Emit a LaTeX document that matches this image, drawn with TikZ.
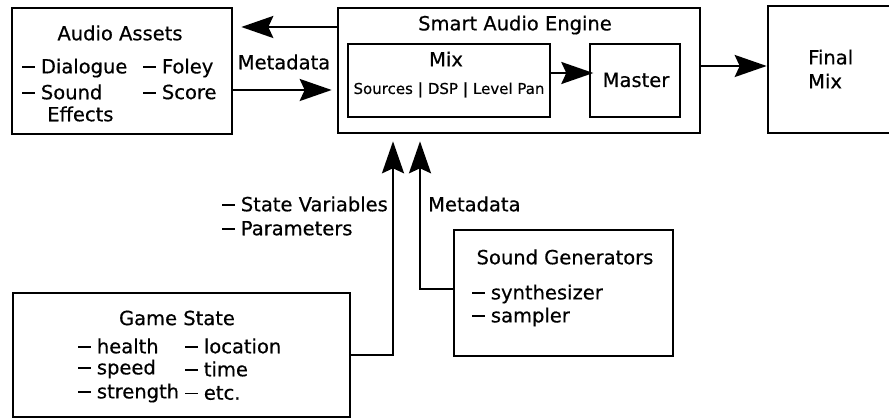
\documentclass[tikz,border=0pt]{standalone}
\usepackage{fontspec}
\setmainfont{DejaVu Sans}[FakeBold=0.5]
\usetikzlibrary{arrows.meta}
\newcommand{\dsh}{\rule[0.27em]{0.66em}{1.8pt}\hspace{0.3em}}
\tikzset{
  box/.style={draw, line width=2.6pt, inner sep=0pt},
  inbox/.style={draw, line width=1.4pt, inner sep=0pt},
  txt/.style={inner sep=0pt, font=\fontsize{19.5}{24}\selectfont},
  smalltxt/.style={inner sep=0pt, font=\fontsize{15}{18}\selectfont},
  arr/.style={line width=2.4pt, -{Stealth[length=32pt, width=22pt, inset=5pt]}},
}

\begin{document}
\begin{tikzpicture}[x=1pt, y=-1pt]
    \clip (0,0) rectangle (889,419);
    % Boxes
    \node[box, minimum width=220pt, minimum height=126pt] (assets) at (122,71) {};
    \node[box, minimum width=362pt, minimum height=125pt] (engine) at (519,70.5) {};
    \node[inbox, minimum width=202pt, minimum height=73pt] (mix) at (449,80.5) {};
    \node[inbox, minimum width=90pt, minimum height=73pt] (master) at (635,80.5) {};
    \node[box, minimum width=140pt, minimum height=127pt] (final) at (838,69.5) {};
    \node[box, minimum width=219pt, minimum height=126pt] (gen) at (563.5,293) {};
    \node[box, minimum width=337pt, minimum height=124pt] (game) at (181.5,355) {};

    % Audio Assets
    \node[txt] (assetsT) at (120,33) {Audio Assets};
    \node[txt, anchor=west] (dialogue) at (22,68) {\dsh Dialogue};
    \node[txt, anchor=west] (sound) at (22,92) {\dsh Sound};
    \node[txt, anchor=west] (effects) at (47,114) {Effects};
    \node[txt, anchor=west] (foley) at (143,68) {\dsh Foley};
    \node[txt, anchor=west] (score) at (143,92) {\dsh Score};

    % Smart Audio Engine
    \node[txt] (engineT) at (515,25) {Smart Audio Engine};
    \node[txt] (mixT) at (446,59) {Mix};
    \node[smalltxt] (chain) at (449,90) {Sources \textbf{|} DSP \textbf{|} Level Pan};
    \node[txt] (masterT) at (636,80) {Master};
    \node[txt, align=left, anchor=west] (finalT) at (808,69) {Final\\Mix};

    % Sound Generators
    \node[txt] (genT) at (565,257) {Sound Generators};
    \node[txt, anchor=west] (synth) at (472,294) {\dsh synthesizer};
    \node[txt, anchor=west] (sampler) at (472,317) {\dsh sampler};

    % Game State
    \node[txt] (gameT) at (177,318) {Game State};
    \foreach \n/\y/\t in {health/346/health, speed/369/speed, strength/393/strength} {
        \node[txt, anchor=west] (\n) at (78,\y) {\dsh\t};
    }
    \foreach \n/\y/\t in {location/346/location, time/369/time, etc/393/etc.} {
        \node[txt, anchor=west] (\n) at (185,\y) {\dsh\t};
    }

    % Labels
    \node[txt] (meta1) at (284,62) {Metadata};
    \node[txt, align=left, anchor=east] (vars) at (388,216) {\dsh State Variables\\\dsh Parameters};
    \node[txt, anchor=west] (meta2) at (428,204) {Metadata};

    % Connectors
    \coordinate (upper) at (0,27);
    \coordinate (lower) at (0,90);
    \coordinate (out) at (0,66);
    \coordinate (inner) at (0,73);
    \coordinate (xgame) at (393,0);
    \coordinate (xgen) at (420,0);
    \coordinate (gen1) at (0,289);
    \draw[arr, shorten >=8pt] (engine.west |- upper) -- (assets.east |- upper);
    \draw[arr, shorten >=5pt] (assets.east |- lower) -- (engine.west |- lower);
    \draw[arr, shorten >=-4pt] (mix.east |- inner) -- (master.west |- inner);
    \draw[arr] (engine.east |- out) -- (final.west |- out);
    \draw[arr, shorten >=7pt] (game.east) -| (engine.south -| xgame);
    \draw[arr, shorten >=7pt] (gen.west |- gen1) -| (engine.south -| xgen);
\end{tikzpicture}
\end{document}
